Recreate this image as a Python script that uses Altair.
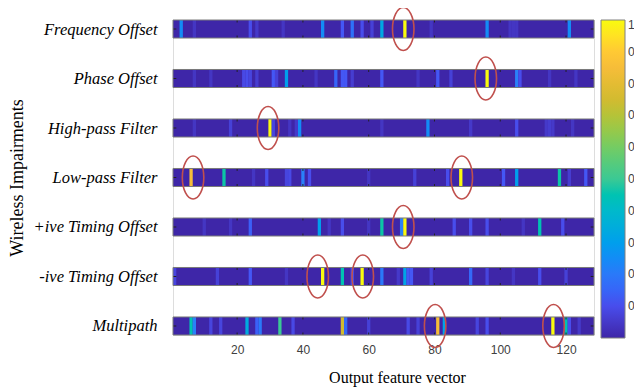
import json
import altair as alt
import pandas as pd

# ---------------- data ----------------
impairments = ["Frequency Offset", "Phase Offset", "High-pass Filter", "Low-pass Filter",
               "+ive Timing Offset", "-ive Timing Offset", "Multipath"]
n_features = 128

freq_cols = [3, 7, 24, 26, 34, 46, 52, 55, 58, 61, 64, 71, 79, 96, 103, 104, 105, 121]
freq_vals = [0.25, 0.04, 0.10, 0.05, 0.04, 0.25, 0.12, 0.18, 0.10, 0.07, 0.33, 1.0, 0.04, 0.25, 0.04, 0.04, 0.04, 0.25]

phase_cols = [7, 12, 22, 23, 24, 26, 31, 32, 35, 44, 50, 52, 53, 55, 64, 75, 81, 85, 96, 105, 106, 115, 123]
phase_vals = [0.04, 0.04, 0.09, 0.10, 0.08, 0.06, 0.12, 0.07, 0.30, 0.04, 0.15, 0.12, 0.12, 0.06, 0.12, 0.04, 0.12, 0.07, 1.0, 0.22, 0.10, 0.04, 0.04]

hpf_cols = [7, 18, 30, 31, 36, 38, 39, 64, 78, 91, 105, 114, 115, 116, 122]
hpf_vals = [0.04, 0.07, 1.0, 0.08, 0.04, 0.05, 0.25, 0.04, 0.25, 0.05, 0.10, 0.05, 0.06, 0.05, 0.04]

lpf_cols = [6, 16, 25, 29, 35, 36, 40, 42, 60, 74, 84, 88, 101, 105, 118, 121, 126]
lpf_vals = [0.85, 0.47, 0.04, 0.10, 0.08, 0.09, 0.22, 0.10, 0.04, 0.07, 0.10, 1.0, 0.12, 0.30, 0.47, 0.06, 0.12]

pto_cols = [10, 18, 24, 45, 48, 52, 60, 64, 70, 71, 86, 91, 96, 107, 112, 119]
pto_vals = [0.04, 0.04, 0.14, 0.30, 0.04, 0.10, 0.04, 0.47, 0.22, 1.0, 0.10, 0.10, 0.10, 0.04, 0.45, 0.10]

nto_cols = [1, 14, 24, 35, 46, 52, 55, 58, 64, 69, 71, 72, 73, 79, 91, 96, 104, 112, 120]
nto_vals = [0.08, 0.07, 0.12, 0.04, 1.0, 0.45, 0.10, 1.0, 0.20, 0.05, 0.32, 0.12, 0.12, 0.07, 0.16, 0.08, 0.04, 0.10, 0.07]

mp_cols = [6, 7, 12, 15, 23, 26, 27, 33, 37, 52, 53, 60, 72, 75, 81, 83, 93, 96, 116, 120, 121, 124]
mp_vals = [0.45, 0.22, 0.08, 0.08, 0.34, 0.14, 0.20, 0.50, 0.09, 0.75, 0.16, 0.07, 0.09, 0.07, 0.85, 0.32, 0.08, 0.10, 1.0, 0.45, 0.10, 0.05]

ellipse_row = [0, 1, 2, 3, 3, 4, 5, 5, 6, 6]
ellipse_col = [70.5, 95.6, 29.4, 6.6, 88.3, 70.5, 44.5, 58.2, 80.2, 116.2]

x_ticks = [20, 40, 60, 80, 100, 120]
legend_ticks = [0.1, 0.2, 0.3, 0.4, 0.5, 0.6, 0.7, 0.8, 0.9, 1.0]

parula_stops = [0, 0.111, 0.238, 0.365, 0.492, 0.619, 0.746, 0.873, 1]
parula_colors = ["#3e26a8", "#4852f4", "#2d87f7", "#11b1d6", "#37c897",
                 "#80cc59", "#d1bb30", "#febd3c", "#f9fb0e"]

# ---------------- tables ----------------
H = 0.182  # half strip height (in row units)
row_cols = [freq_cols, phase_cols, hpf_cols, lpf_cols, pto_cols, nto_cols, mp_cols]
row_vals = [freq_vals, phase_vals, hpf_vals, lpf_vals, pto_vals, nto_vals, mp_vals]

cells = []
for r, (cs, vs) in enumerate(zip(row_cols, row_vals)):
    for c, v in zip(cs, vs):
        cells.append({"x": c - 0.5, "x2": c + 0.5, "y": r - H, "y2": r + H, "v": v})
cells_df = pd.DataFrame(cells)

strips_df = pd.DataFrame([{"x": 0.5, "x2": n_features + 0.5, "y": r - H, "y2": r + H, "v": 0.0}
                          for r in range(len(impairments))])

ticks = []
tl = 0.05
for r in range(len(impairments)):
    for xt in x_ticks:
        ticks.append({"x": xt, "x2": xt, "y": r - H, "y2": r - H + tl})
        ticks.append({"x": xt, "x2": xt, "y": r + H - tl, "y2": r + H})
    ticks.append({"x": 0.5, "x2": 1.5, "y": r, "y2": r})
    ticks.append({"x": n_features - 0.5, "x2": n_features + 0.5, "y": r, "y2": r})
ticks_df = pd.DataFrame(ticks)

ell_df = pd.DataFrame({"x": ellipse_col, "y": ellipse_row})

# ---------------- scales / axes ----------------
xscale = alt.Scale(domain=[0.5, n_features + 0.5], nice=False, zero=False)
yscale = alt.Scale(domain=[-H, len(impairments) - 1 + H], nice=False, zero=False, reverse=True)

xaxis = alt.Axis(values=x_ticks, grid=False, domain=False, ticks=False, tickSize=0,
                 labelPadding=9, labelFont="Liberation Sans", labelFontSize=12,
                 labelColor="#404040", title="Output feature vector",
                 titleFont="Liberation Serif", titleFontSize=16, titleFontWeight="normal",
                 titleColor="black", titleX=224, titleY=42, titleBaseline="middle",
                 titleAlign="center")

yaxis = alt.Axis(values=list(range(len(impairments))),
                 labelExpr=json.dumps(impairments) + "[datum.value]",
                 grid=False, domain=False, ticks=False, tickSize=0, labelPadding=16,
                 labelFont="Liberation Serif", labelFontStyle="italic", labelFontSize=16.5,
                 labelColor="black", labelLimit=300,
                 title="Wireless Impairments", titleFont="Liberation Serif",
                 titleFontSize=18, titleFontWeight="normal", titleColor="black",
                 titleX=-156, titleY=157.5, titleAngle=270, titleAlign="center",
                 titleBaseline="middle")

X = alt.X("x:Q", scale=xscale, axis=xaxis)
X2 = alt.X2("x2:Q")
Y = alt.Y("y:Q", scale=yscale, axis=yaxis)
Y2 = alt.Y2("y2:Q")

cscale = alt.Scale(domain=parula_stops, range=parula_colors)
legend = alt.Legend(orient="none", legendX=428, legendY=0, direction="vertical", title=None,
                    gradientLength=318, gradientThickness=24, values=legend_ticks,
                    labelExpr="substring(datum.label, 0, 1)", labelFont="Liberation Sans",
                    labelFontSize=12, labelColor="#404040", labelOffset=3, labelOverlap=False,
                    labelBaseline="middle",
                    gradientStrokeColor="#808080", gradientStrokeWidth=1, padding=0)

bg = alt.Chart(strips_df).mark_rect(strokeWidth=0).encode(
    x=X, x2=X2, y=Y, y2=Y2,
    color=alt.Color("v:Q", scale=cscale, legend=legend))

heat = alt.Chart(cells_df).mark_rect(strokeWidth=0).encode(
    x=X, x2=X2, y=Y, y2=Y2,
    color=alt.Color("v:Q", scale=cscale, legend=legend))

tick_layer = alt.Chart(ticks_df).mark_rule(color="#222222", strokeWidth=1).encode(
    x=X, x2=X2, y=Y, y2=Y2)

border = alt.Chart(strips_df).mark_rect(filled=False, stroke="#7a7a7a", strokeWidth=1,
                                        fillOpacity=0).encode(x=X, x2=X2, y=Y, y2=Y2)

ellipse_path = ("M 0 -1 C 0.2761 -1 0.5 -0.5523 0.5 0 C 0.5 0.5523 0.2761 1 0 1 "
                "C -0.2761 1 -0.5 0.5523 -0.5 0 C -0.5 -0.5523 -0.2761 -1 0 -1 Z")
ellipses = alt.Chart(ell_df).mark_point(shape=ellipse_path, size=1849, filled=False,
                                        color="#c0504d", strokeWidth=1.6, opacity=1).encode(
    x=X, y=Y)

chart = alt.layer(bg, heat, tick_layer, border, ellipses).properties(
    width=421, height=315,
    autosize=alt.AutoSizeParams(type="none"),
    padding={"left": 165, "top": 12, "right": 40, "bottom": 52},
).configure_view(stroke=None).configure(background="white")

chart.save("out.html", embed_options={"renderer": "svg", "actions": False})
